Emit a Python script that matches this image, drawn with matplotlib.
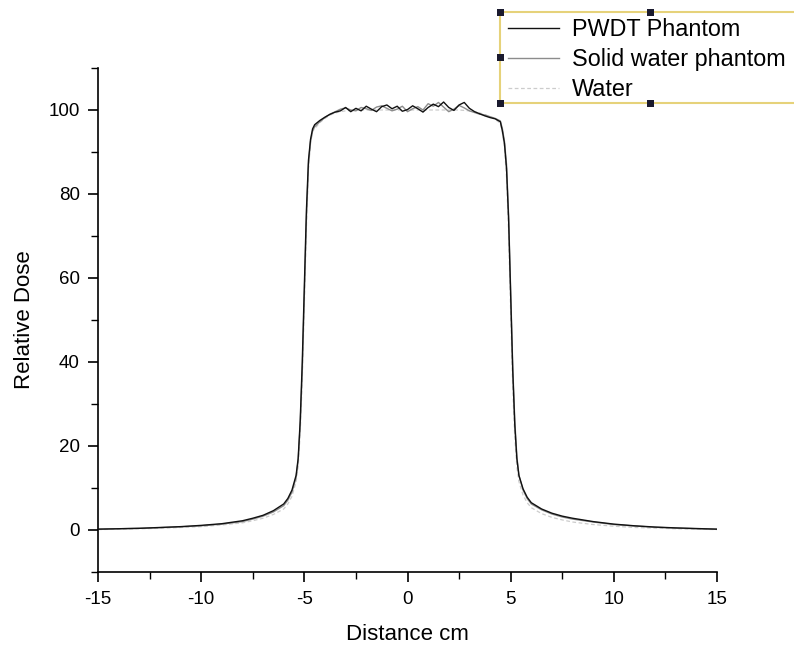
import matplotlib
matplotlib.use("Agg")
import matplotlib.pyplot as plt
from matplotlib.patches import Rectangle
from matplotlib.ticker import MultipleLocator

plt.rcParams["font.family"] = ["Liberation Sans", "DejaVu Sans"]
plt.rcParams["axes.unicode_minus"] = False

# distance (cm): tails + plateau
x_left = [-15, -14, -13, -12, -11, -10, -9, -8, -7.5, -7, -6.5, -6, -5.8, -5.6,
          -5.4, -5.3, -5.2, -5.1, -5.0, -4.9, -4.8, -4.7, -4.6]
x_plateau = [-4.5 + 0.25 * i for i in range(37)]
x_right = [4.6, 4.7, 4.8, 4.9, 5.0, 5.1, 5.2, 5.3, 5.4, 5.6, 5.8, 6, 6.5, 7,
           7.5, 8, 9, 10, 11, 12, 13, 14, 15]
distance = x_left + x_plateau + x_right

pwdt_left = [0.2, 0.3, 0.4, 0.6, 0.8, 1.1, 1.5, 2.2, 2.8, 3.5, 4.6, 6.2, 7.5, 9.5,
             13, 17, 26, 40, 58, 76, 88, 93, 95.5]
pwdt_plateau = [96.5, 97.5, 98.3, 99.0, 99.5, 99.8, 100.6, 99.6, 100.4, 99.8, 100.9,
                100.2, 99.6, 100.8, 101.2, 100.3, 100.9, 99.7, 100.1, 101.0, 100.3,
                99.5, 100.6, 101.4, 100.8, 101.9, 100.6, 99.9, 101.2, 101.8, 100.4,
                99.6, 99.1, 98.6, 98.2, 97.9, 97.2]
pwdt_right = [95, 92, 86, 74, 56, 38, 25, 17, 13, 9.8, 7.8, 6.5, 5.0, 4.0, 3.3,
              2.8, 2.0, 1.4, 1.0, 0.7, 0.5, 0.35, 0.2]

solid_left = [0.2, 0.3, 0.4, 0.55, 0.75, 1.0, 1.4, 2.0, 2.6, 3.3, 4.3, 5.8, 7.1, 9.0,
              12.5, 16.5, 25, 38, 56, 74, 87, 92.5, 95]
solid_plateau = [96.0, 97.2, 98.2, 99.0, 99.6, 100.2, 100.5, 100.0, 99.8, 100.6, 100.3,
                 99.9, 100.7, 101.0, 100.4, 99.8, 100.2, 100.9, 99.6, 100.3, 100.8,
                 100.0, 101.5, 100.9, 101.8, 100.7, 99.6, 100.2, 101.1, 100.5, 99.8,
                 99.4, 99.0, 98.8, 98.4, 98.0, 97.4]
solid_right = [95.5, 92.5, 87, 75, 57, 39, 26, 17.5, 13, 9.5, 7.5, 6.2, 4.8, 3.8, 3.1,
               2.6, 1.9, 1.3, 0.95, 0.65, 0.45, 0.3, 0.2]

water_left = [0.1, 0.2, 0.3, 0.4, 0.6, 0.8, 1.2, 1.7, 2.2, 2.8, 3.7, 5.0, 6.2, 8.0,
              11.5, 15, 23, 36, 54, 72, 86, 92, 95]
water_plateau = [95.5, 97.0, 98.0, 98.8, 99.3, 99.6, 99.8, 99.9, 100, 100, 100, 100,
                 100, 100, 100, 100, 100, 100, 100, 100, 100, 100, 100, 100, 100, 100,
                 100, 100, 100, 99.9, 99.8, 99.6, 99.3, 98.9, 98.4, 97.8, 96.8]
water_right = [94.5, 91, 84, 71, 52, 34, 22, 15, 11.5, 8.3, 6.5, 5.3, 3.9, 3.0, 2.4,
               1.9, 1.3, 0.9, 0.6, 0.45, 0.3, 0.2, 0.1]

pwdt = pwdt_left + pwdt_plateau + pwdt_right
solid = solid_left + solid_plateau + solid_right
water = water_left + water_plateau + water_right

W, H = 794, 651
fig = plt.figure(figsize=(W / 100, H / 100), dpi=100)
ax = fig.add_axes([98 / W, 1 - 572 / H, (717 - 98) / W, (572 - 68) / H])

ax.plot(distance, water, color="#cccccc", lw=0.9, ls=(0, (3, 2)), label="Water", zorder=1)
ax.plot(distance, solid, color="#8c8c8c", lw=1.0, label="Solid water phantom", zorder=2)
ax.plot(distance, pwdt, color="#111111", lw=1.0, label="PWDT Phantom", zorder=3)

ax.set_xlim(-15, 15)
ax.set_ylim(-10, 110)
ax.xaxis.set_major_locator(MultipleLocator(5))
ax.xaxis.set_minor_locator(MultipleLocator(2.5))
ax.set_yticks([0, 20, 40, 60, 80, 100])
ax.yaxis.set_minor_locator(MultipleLocator(10))
ax.spines["top"].set_visible(False)
ax.spines["right"].set_visible(False)
for s in ("left", "bottom"):
    ax.spines[s].set_linewidth(1.2)
ax.tick_params(which="major", direction="out", length=7, width=1.2, labelsize=13.5)
ax.tick_params(which="minor", direction="out", length=5, width=1.0)
ax.tick_params(axis="x", pad=7)
ax.tick_params(axis="y", pad=6)
ax.set_xlabel("Distance cm", fontsize=16, labelpad=11)
ax.set_ylabel("Relative Dose", fontsize=16, labelpad=10)

# legend box drawn like the selected Origin legend
fig.add_artist(Rectangle((500 / W, 1 - 103 / H), 297 / W, 91 / H, transform=fig.transFigure,
                         fill=False, edgecolor="#e6d27a", lw=1.5))
for px, py in [(500, 12), (650, 12), (500, 57), (500, 103), (650, 103), (797, 57)]:
    fig.add_artist(Rectangle(((px - 3.5) / W, 1 - (py + 3.5) / H), 7 / W, 7 / H,
                             transform=fig.transFigure, facecolor="#1a1a2e",
                             edgecolor="none", zorder=5))
handles, labels = ax.get_legend_handles_labels()
order = [2, 1, 0]
fig.legend([handles[i] for i in order], [labels[i] for i in order],
           loc="upper left", bbox_to_anchor=(508 / W, 1 - 18 / H),
           frameon=False, fontsize=16.8, handlelength=2.2, handletextpad=0.55,
           labelspacing=0.3, borderpad=0, borderaxespad=0)

fig.savefig("out.png", dpi=100)
